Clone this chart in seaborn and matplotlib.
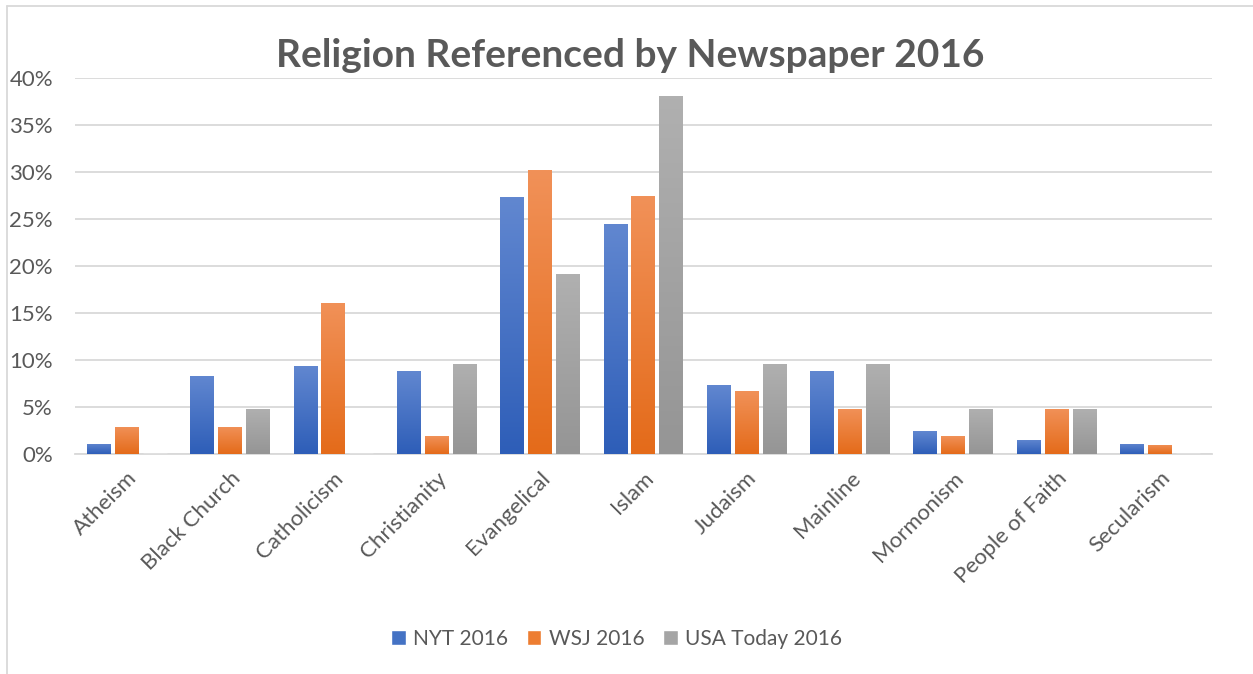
import numpy as np
import pandas as pd
import matplotlib
matplotlib.use("Agg")
import matplotlib.pyplot as plt
import matplotlib.colors as mcolors
from matplotlib.lines import Line2D
from matplotlib.ticker import PercentFormatter, MultipleLocator
import seaborn as sns

# ----------------------------------------------------------
# DATA
# ----------------------------------------------------------

religions = ["Atheism", "Black Church", "Catholicism", "Christianity",
             "Evangelical", "Islam", "Judaism", "Mainline", "Mormonism",
             "People of Faith", "Secularism"]

nyt_2016 = [1.1, 8.3, 9.4, 8.8, 27.3, 24.5, 7.3, 8.8, 2.4, 1.5, 1.1]
wsj_2016 = [2.9, 2.9, 16.1, 1.9, 30.2, 27.4, 6.7, 4.8, 1.9, 4.8, 1.0]
usa_2016 = [0.0, 4.8, 0.0, 9.6, 19.1, 38.1, 9.6, 9.6, 4.8, 4.8, 0.0]

papers = ["NYT 2016", "WSJ 2016", "USA Today 2016"]
colors = ["#4472C4", "#ED7D31", "#A5A5A5"]

df = pd.DataFrame({
    "Religion": religions * 3,
    "Paper": np.repeat(papers, len(religions)),
    "Share": nyt_2016 + wsj_2016 + usa_2016,
})

# ----------------------------------------------------------
# STYLE
# ----------------------------------------------------------

sns.set_style("white")
plt.rcParams["font.family"] = ["Lato", "DejaVu Sans"]
text_color = "#595959"

fig = plt.figure(figsize=(12.53, 6.74), dpi=100)
ax = fig.add_axes([0.060, 0.3264, 0.907, 0.5579])

sns.barplot(data=df, x="Religion", y="Share", hue="Paper",
            palette=colors, width=0.81, gap=0.14, ax=ax,
            saturation=1, legend=True, zorder=3)

# vertical gradient on the bars, like the Excel fill
light = {"#4472C4": "#6187D0", "#ED7D31": "#F19158", "#A5A5A5": "#B0B0B0"}
dark = {"#4472C4": "#2E5EB8", "#ED7D31": "#E46B1A", "#A5A5A5": "#959595"}

for cont, col in zip(ax.containers, colors):
    cmap = mcolors.LinearSegmentedColormap.from_list(
        "g", [dark[col], light[col]])
    for bar in cont:
        h = bar.get_height()
        if h <= 0:
            continue
        x0 = bar.get_x()
        w = bar.get_width()
        grad = np.linspace(0, 1, 100).reshape(-1, 1)
        im = ax.imshow(grad, cmap=cmap, origin="lower", aspect="auto",
                       extent=[x0, x0 + w, 0, h], zorder=3.5)
        im.set_clip_path(bar)
        bar.set_edgecolor("none")

ax.set_xlim(-0.5, len(religions) - 0.5)
ax.set_ylim(0, 40)
ax.yaxis.set_major_locator(MultipleLocator(5))
ax.yaxis.set_major_formatter(PercentFormatter(decimals=0))
ax.grid(axis="y", color="#D9D9D9", linewidth=1.3, zorder=0)
for s in ["top", "right", "left"]:
    ax.spines[s].set_visible(False)
ax.spines["bottom"].set_color("#D9D9D9")
ax.spines["bottom"].set_linewidth(1.3)

ax.set_xlabel("")
ax.set_ylabel("")
ax.tick_params(axis="y", labelsize=16, labelcolor=text_color, length=0,
               pad=16)
ax.tick_params(axis="x", labelsize=16, labelcolor=text_color, length=0,
               pad=10)
plt.setp(ax.get_xticklabels(), rotation=45, ha="right",
         rotation_mode="anchor")

# title
fig.text(0.503, 0.918, "Religion Referenced by Newspaper 2016",
         ha="center", va="center", fontsize=28, fontweight="bold",
         color=text_color)

# legend
ax.get_legend().remove()
handles = [plt.Rectangle((0, 0), 1, 1, facecolor=c) for c in colors]
fig.legend(handles, papers, loc="center", bbox_to_anchor=(0.492, 0.052),
           ncol=3, frameon=False, fontsize=15, handlelength=0.7,
           handleheight=0.7, handletextpad=0.35, columnspacing=0.9,
           labelcolor=text_color)

# chart border (top and left visible)
fig.add_artist(Line2D([0.0056, 1.0], [0.991, 0.991], color="#D9D9D9",
                      linewidth=1.3, transform=fig.transFigure))
fig.add_artist(Line2D([0.0056, 0.0056], [0.0, 0.991], color="#D9D9D9",
                      linewidth=1.3, transform=fig.transFigure))

fig.savefig("out.png", dpi=100, facecolor="white")
